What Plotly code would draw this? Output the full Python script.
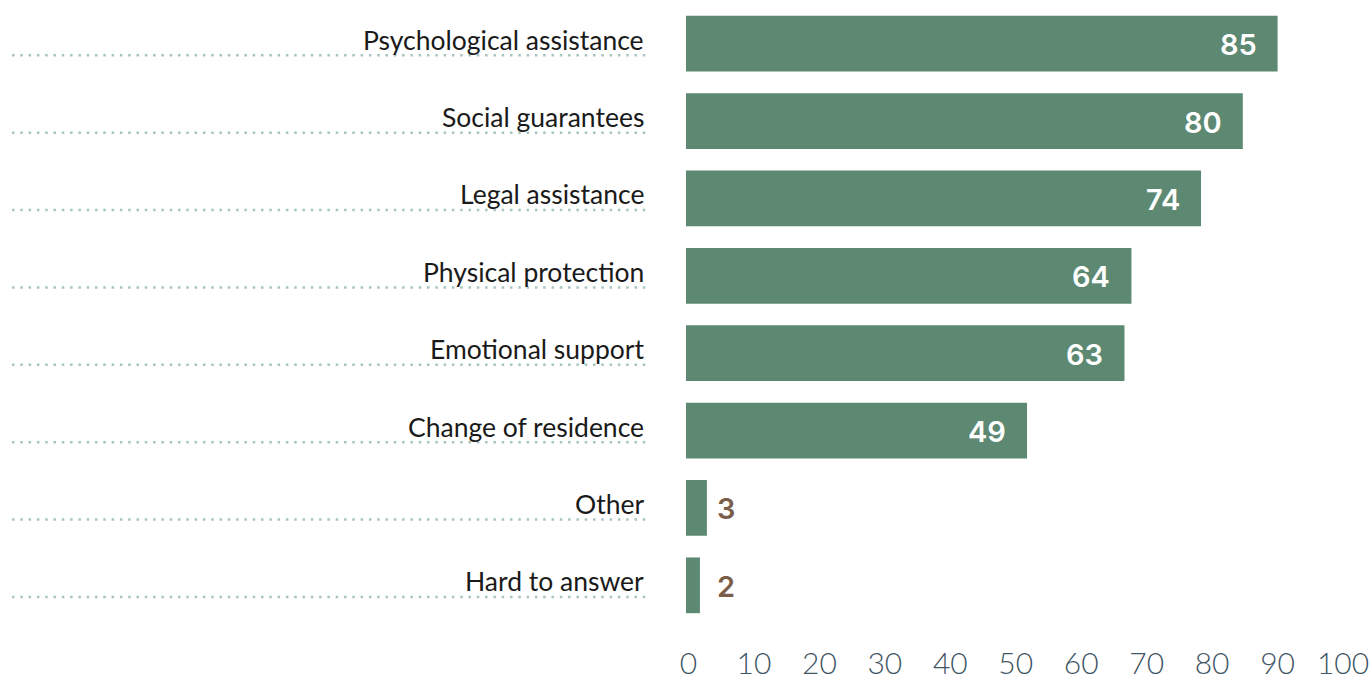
import plotly.graph_objects as go

categories = [
    "Psychological assistance",
    "Social guarantees",
    "Legal assistance",
    "Physical protection",
    "Emotional support",
    "Change of residence",
    "Other",
    "Hard to answer",
]
values = [85, 80, 74, 64, 63, 49, 3, 2]
tick_values = [0, 10, 20, 30, 40, 50, 60, 70, 80, 90, 100]
tick_labels = [str(t) for t in tick_values]

BAR_COLOR = "#5d8872"
OUT_TEXT = "#7b5e4a"
TICK_COLOR = "#3f5666"
DOT_COLOR = "#a8c4c0"
LABEL_COLOR = "#1a1a1a"

W, H = 1370, 682
left, right, top, bottom = 686, 24, 5, 58
plot_w = W - left - right
px_per_unit = 6.96

fig = go.Figure()
fig.add_trace(go.Bar(
    y=categories,
    x=values,
    orientation="h",
    marker=dict(color=BAR_COLOR, line=dict(width=0)),
    hoverinfo="x+y",
    xaxis="x",
    yaxis="y",
))

annotations = []
# value labels: white inside long bars, brown in a column beside the short ones
for cat, v in zip(categories, values):
    if v >= 10:
        annotations.append(dict(
            x=v, y=cat, xref="x", yref="y", text=str(v),
            showarrow=False, xanchor="right", xshift=-19, yshift=-1,
            font=dict(family="Inter", size=29, color="white", weight=600),
        ))
    else:
        annotations.append(dict(
            x=0, y=cat, xref="x", yref="y", text=str(v),
            showarrow=False, xanchor="left", xshift=29, yshift=-1,
            font=dict(family="Inter", size=29, color=OUT_TEXT, weight=600),
        ))

# category names, right-aligned left of the bars
label_x = (646 - left) / plot_w
for cat in categories:
    annotations.append(dict(
        x=label_x, y=cat, xref="paper", yref="y", text=cat,
        showarrow=False, xanchor="right", yshift=4,
        font=dict(family="Lato", size=26.5, color=LABEL_COLOR),
    ))

# dotted leader lines under each category label
shapes = []
x0_paper = (12 - left) / plot_w
x1_paper = (649 - left) / plot_w
for i in range(len(categories)):
    shapes.append(dict(
        type="line", xref="paper", yref="y",
        x0=x0_paper, x1=x1_paper, y0=i + 0.15, y1=i + 0.15,
        line=dict(color=DOT_COLOR, width=2.5, dash="2.5px,5.8px"),
    ))

tick_offset = 2.5
tick_scale = 6.545

fig.update_layout(
    width=W, height=H,
    margin=dict(l=left, r=right, t=top, b=bottom),
    paper_bgcolor="white",
    plot_bgcolor="white",
    bargap=0.28,
    showlegend=False,
    annotations=annotations,
    shapes=shapes,
    xaxis=dict(
        range=[0, plot_w / px_per_unit],
        visible=False,
        fixedrange=True,
        automargin=False,
    ),
    xaxis2=dict(
        overlaying="x",
        anchor="y",
        side="bottom",
        range=[-tick_offset / tick_scale, (plot_w - tick_offset) / tick_scale],
        tickmode="array",
        tickvals=tick_values,
        ticktext=tick_labels,
        showgrid=False,
        zeroline=False,
        showline=False,
        ticks="",
        automargin=False,
        ticklabeloverflow="allow",
        ticklabelstandoff=19,
        tickfont=dict(family="Lato", size=30, color=TICK_COLOR, weight=300),
    ),
    yaxis=dict(
        autorange="reversed",
        categoryorder="array",
        categoryarray=categories,
        showgrid=False,
        zeroline=False,
        showline=False,
        showticklabels=False,
        ticks="",
        automargin=False,
    ),
)

# invisible trace so the tick axis is drawn
fig.add_trace(go.Scatter(
    x=[0], y=[categories[0]], xaxis="x2", yaxis="y",
    mode="markers", marker=dict(opacity=0), hoverinfo="skip",
))

fig.write_html("out.html")
